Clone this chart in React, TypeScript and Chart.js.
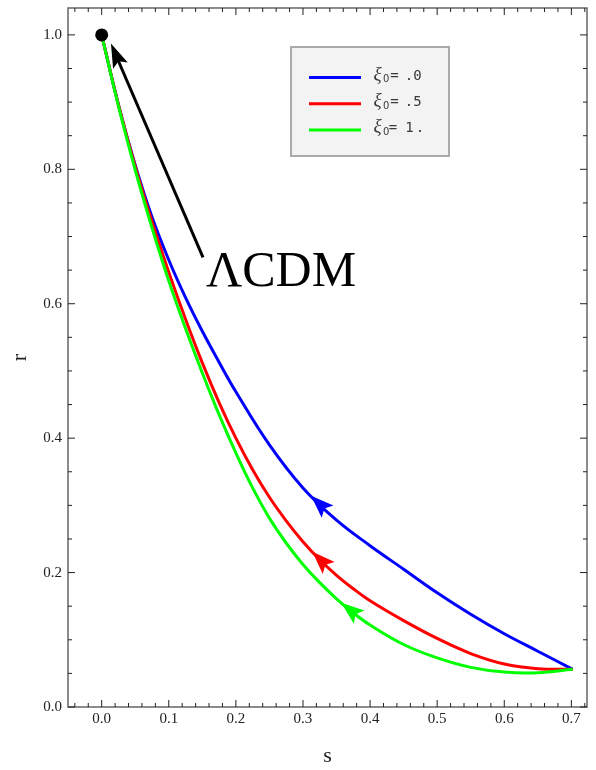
import React, { useEffect, useRef } from "react";
import { Chart, registerables } from "chart.js";

Chart.register(...registerables);

// ---- data ----
const seriesNames = ["ξ0 = .0", "ξ0 = .5", "ξ0 = 1."];
const legendChars = [["=", ".", "0"], ["=", ".", "5"], ["=", "1", "."]];
const seriesColors = ["#0000ff", "#ff0000", "#00ff00"];

const sBlue = [0, 0.025, 0.05, 0.075, 0.1, 0.125, 0.15, 0.175, 0.2, 0.25, 0.3, 0.35, 0.4, 0.45, 0.5, 0.55, 0.6, 0.65, 0.702];
const rBlue = [1.0, 0.896, 0.806, 0.729, 0.665, 0.609, 0.559, 0.513, 0.469, 0.39, 0.326, 0.278, 0.24, 0.205, 0.17, 0.138, 0.109, 0.083, 0.056];

const sRed = [0, 0.025, 0.05, 0.075, 0.1, 0.125, 0.15, 0.175, 0.2, 0.225, 0.25, 0.275, 0.3, 0.325, 0.35, 0.375, 0.4, 0.45, 0.5, 0.55, 0.6, 0.65, 0.702];
const rRed = [1.0, 0.896, 0.804, 0.722, 0.647, 0.577, 0.512, 0.453, 0.4, 0.353, 0.312, 0.277, 0.246, 0.219, 0.196, 0.176, 0.158, 0.1285, 0.102, 0.0795, 0.064, 0.057, 0.056];

const sGreen = [0, 0.025, 0.05, 0.075, 0.1, 0.125, 0.15, 0.175, 0.2, 0.225, 0.25, 0.275, 0.3, 0.325, 0.35, 0.375, 0.4, 0.45, 0.5, 0.55, 0.6, 0.65, 0.702];
const rGreen = [1.0, 0.894, 0.799, 0.713, 0.634, 0.563, 0.497, 0.435, 0.378, 0.326, 0.281, 0.244, 0.212, 0.185, 0.161, 0.14, 0.122, 0.093, 0.073, 0.059, 0.052, 0.051, 0.056];

// s-position of the direction arrowheads (tips) on each curve
const arrowTipS = [0.312, 0.314, 0.357];

// axis ticks
const xMajorTicks = [0, 0.1, 0.2, 0.3, 0.4, 0.5, 0.6, 0.7];
const yMajorTicks = [0, 0.2, 0.4, 0.6, 0.8, 1.0];
const xMinorStep = 0.02;
const yMinorStep = 0.05;
const xRange = [-0.0502, 0.7233];
const yRange = [0, 1.04];

// ΛCDM annotation (data coordinates)
const lcdmPoint = [0, 1.0];
const lcdmArrowFrom = [0.151, 0.669];
const lcdmArrowTo = [0.0138, 0.987];
const lcdmLabelAt = [0.1554, 0.6257];
const lcdmLabel = "ΛCDM";

const xTitle = "s";
const yTitle = "r";

const seriesS = [sBlue, sRed, sGreen];
const seriesR = [rBlue, rRed, rGreen];

function interp(sArr: number[], rArr: number[], s: number): number {
  for (let i = 0; i < sArr.length - 1; i++) {
    if (s >= sArr[i] && s <= sArr[i + 1]) {
      const t = (s - sArr[i]) / (sArr[i + 1] - sArr[i]);
      return rArr[i] + t * (rArr[i + 1] - rArr[i]);
    }
  }
  return rArr[rArr.length - 1];
}

function drawHead(
  ctx: CanvasRenderingContext2D,
  fx: number, fy: number, tx: number, ty: number,
  len: number, half: number, color: string
) {
  const dx = tx - fx, dy = ty - fy;
  const d = Math.hypot(dx, dy) || 1;
  const ux = dx / d, uy = dy / d;
  const nx = -uy, ny = ux;
  const bx = tx - ux * len, by = ty - uy * len;
  const notchX = tx - ux * len * 0.8, notchY = ty - uy * len * 0.8;
  ctx.save();
  ctx.fillStyle = color;
  ctx.beginPath();
  ctx.moveTo(tx, ty);
  ctx.lineTo(bx + nx * half, by + ny * half);
  ctx.lineTo(notchX, notchY);
  ctx.lineTo(bx - nx * half, by - ny * half);
  ctx.closePath();
  ctx.fill();
  ctx.restore();
}

const decorPlugin = {
  id: "decor",
  afterDatasetsDraw(chart: any) {
    const { ctx, chartArea: a, scales } = chart;
    const x = scales.x, y = scales.y;
    const px = (v: number) => x.getPixelForValue(v);
    const py = (v: number) => y.getPixelForValue(v);

    // direction arrowheads on curves
    seriesS.forEach((sArr, i) => {
      const s0 = arrowTipS[i];
      const r0 = interp(sArr, seriesR[i], s0);
      const s1 = s0 + 0.025;
      const r1 = interp(sArr, seriesR[i], s1);
      drawHead(ctx, px(s1), py(r1), px(s0), py(r0), 23, 8.5, seriesColors[i]);
    });

    // ΛCDM arrow
    const fx = px(lcdmArrowFrom[0]), fy = py(lcdmArrowFrom[1]);
    const tx = px(lcdmArrowTo[0]), ty = py(lcdmArrowTo[1]);
    const d = Math.hypot(tx - fx, ty - fy);
    const ux = (tx - fx) / d, uy = (ty - fy) / d;
    ctx.save();
    ctx.strokeStyle = "#000";
    ctx.lineWidth = 3;
    ctx.beginPath();
    ctx.moveTo(fx, fy);
    ctx.lineTo(tx - ux * 17, ty - uy * 17);
    ctx.stroke();
    ctx.restore();
    drawHead(ctx, fx, fy, tx, ty, 24, 8, "#000");

    // ΛCDM point
    ctx.save();
    ctx.fillStyle = "#000";
    ctx.beginPath();
    ctx.arc(px(lcdmPoint[0]), py(lcdmPoint[1]), 6.5, 0, Math.PI * 2);
    ctx.fill();

    // ΛCDM label
    ctx.font = '50px "Liberation Serif"';
    ctx.textBaseline = "alphabetic";
    ctx.textAlign = "left";
    ctx.fillText(lcdmLabel, px(lcdmLabelAt[0]), py(lcdmLabelAt[1]));
    ctx.restore();

    // legend box
    const lx = a.left + 223, ly = a.top + 39, lw = 158, lh = 109;
    ctx.save();
    ctx.fillStyle = "#f3f3f3";
    ctx.fillRect(lx, ly, lw, lh);
    ctx.strokeStyle = "#aaaaaa";
    ctx.lineWidth = 2;
    ctx.strokeRect(lx, ly, lw, lh);
    seriesNames.forEach((_, i) => {
      const rowY = ly + 30.5 + i * 26.3;
      ctx.strokeStyle = seriesColors[i];
      ctx.lineWidth = 3;
      ctx.beginPath();
      ctx.moveTo(lx + 18, rowY);
      ctx.lineTo(lx + 70, rowY);
      ctx.stroke();
      ctx.fillStyle = "#3a3a3a";
      ctx.textBaseline = "alphabetic";
      ctx.textAlign = "left";
      ctx.font = 'italic 19px "Liberation Serif"';
      ctx.fillText("ξ", lx + 82.5, rowY + 2);
      ctx.font = '10px "DejaVu Sans"';
      ctx.fillText("0", lx + 92, rowY + 4.7);
      ctx.font = '14px "DejaVu Sans Mono"';
      ctx.textAlign = "center";
      const centers = i === 2 ? [102, 118.5, 129] : [103.5, 118, 126.5];
      legendChars[i].forEach((c, k) => {
        ctx.fillText(c, lx + centers[k], rowY + 2);
      });
    });
    ctx.restore();

    // frame
    ctx.save();
    ctx.strokeStyle = "#666";
    ctx.lineWidth = 1.5;
    ctx.strokeRect(a.left, a.top, a.right - a.left, a.bottom - a.top);

    // ticks
    ctx.strokeStyle = "#222";
    ctx.lineWidth = 1;
    const major = 7, minor = 4;
    const isMajor = (v: number, arr: number[]) => arr.some((m) => Math.abs(m - v) < 1e-6);
    ctx.beginPath();
    for (let v = Math.ceil(xRange[0] / xMinorStep) * xMinorStep; v <= xRange[1] + 1e-9; v += xMinorStep) {
      const vv = Math.round(v * 1000) / 1000;
      const L = isMajor(vv, xMajorTicks) ? major : minor;
      const p = px(vv);
      ctx.moveTo(p, a.bottom);
      ctx.lineTo(p, a.bottom - L);
      ctx.moveTo(p, a.top);
      ctx.lineTo(p, a.top + L);
    }
    for (let v = 0; v <= yRange[1] + 1e-9; v += yMinorStep) {
      const vv = Math.round(v * 1000) / 1000;
      const L = isMajor(vv, yMajorTicks) ? major : minor;
      const p = py(vv);
      ctx.moveTo(a.left, p);
      ctx.lineTo(a.left + L, p);
      ctx.moveTo(a.right, p);
      ctx.lineTo(a.right - L, p);
    }
    ctx.stroke();
    ctx.restore();
  },
};

export default function App() {
  const ref = useRef<HTMLCanvasElement | null>(null);

  useEffect(() => {
    if (!ref.current) return;
    const datasets = seriesNames.map((name, i) => ({
      label: name,
      data: seriesS[i].map((s, j) => ({ x: s, y: seriesR[i][j] })),
      borderColor: seriesColors[i],
      backgroundColor: seriesColors[i],
      borderWidth: 3,
      pointRadius: 0,
      fill: false,
      tension: 0.4,
      order: 3 - i,
    }));
    const chart = new Chart(ref.current, {
      type: "line",
      data: { datasets },
      options: {
        animation: false,
        responsive: false,
        devicePixelRatio: 1,
        layout: { padding: { left: 0, top: 8, right: 9, bottom: 0 } },
        plugins: { legend: { display: false }, tooltip: { enabled: false } },
        scales: {
          x: {
            type: "linear",
            min: xRange[0],
            max: xRange[1],
            grid: { display: false, drawTicks: false },
            border: { display: false },
            afterBuildTicks: (scale: any) => {
              scale.ticks = xMajorTicks.map((v) => ({ value: v }));
            },
            afterFit: (scale: any) => {
              scale.height = 63;
              scale.paddingLeft = 0;
              scale.paddingRight = 0;
            },
            ticks: {
              font: { family: "Liberation Serif", size: 15 },
              color: "#222",
              padding: 3,
              callback: (v: any) => Number(v).toFixed(1),
            },
            title: {
              display: true,
              text: xTitle,
              font: { family: "Liberation Serif", size: 22 },
              color: "#222",
              padding: { top: 0, bottom: 1 },
            },
          },
          y: {
            type: "linear",
            min: yRange[0],
            max: yRange[1],
            grid: { display: false, drawTicks: false },
            border: { display: false },
            afterBuildTicks: (scale: any) => {
              scale.ticks = yMajorTicks.map((v) => ({ value: v }));
            },
            afterFit: (scale: any) => {
              scale.width = 68;
              scale.paddingTop = 0;
              scale.paddingBottom = 0;
            },
            ticks: {
              font: { family: "Liberation Serif", size: 15 },
              color: "#222",
              padding: 6,
              callback: (v: any) => Number(v).toFixed(1),
            },
            title: {
              display: true,
              text: yTitle,
              font: { family: "Liberation Serif", size: 22 },
              color: "#222",
              padding: { top: 7, bottom: 0 },
            },
          },
        },
      },
      plugins: [decorPlugin],
    });
    return () => chart.destroy();
  }, []);

  return (
    <div style={{ position: "absolute", left: 0, top: 0, width: 596, height: 770, background: "#fff" }}>
      <canvas ref={ref} width={596} height={770} style={{ width: 596, height: 770, display: "block" }} />
    </div>
  );
}
